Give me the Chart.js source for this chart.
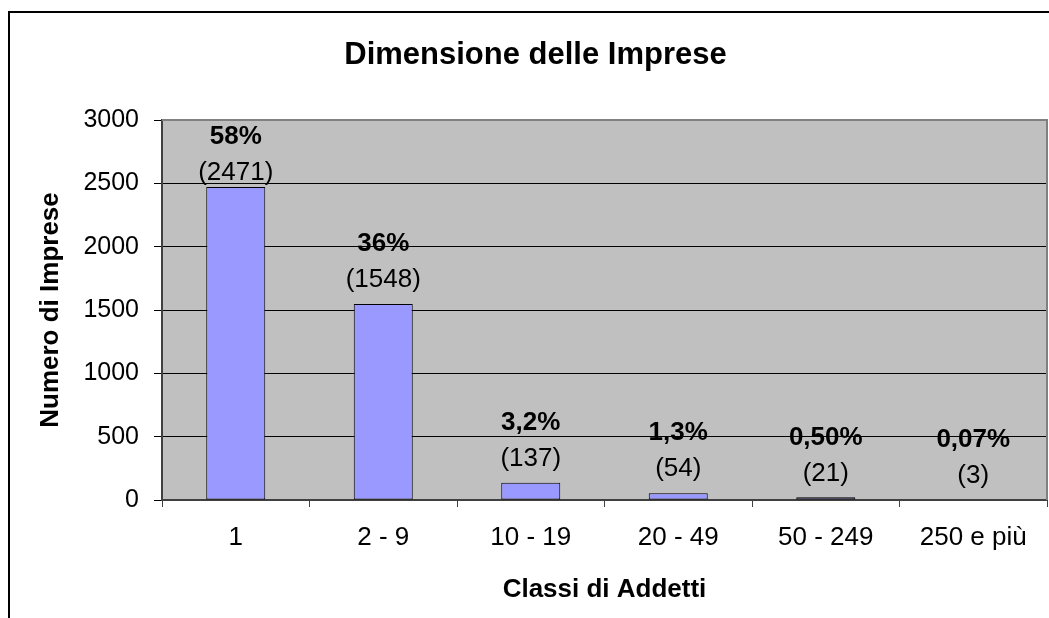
<!DOCTYPE html>
<html><head><meta charset="utf-8">
<script src="https://cdn.jsdelivr.net/npm/chart.js@4/dist/chart.umd.min.js"></script>
<style>html,body{margin:0;padding:0;background:#fff;} #wrap{width:1049px;height:618px;position:relative;}</style>
</head><body><div id="wrap"><canvas id="c" width="1049" height="618"></canvas></div>
<script>
const categories = ['1', '2 - 9', '10 - 19', '20 - 49', '50 - 249', '250 e più'];
const counts = [2471, 1548, 137, 54, 21, 3];
const percentLabels = ['58%', '36%', '3,2%', '1,3%', '0,50%', '0,07%'];
const yTicks = [0, 500, 1000, 1500, 2000, 2500, 3000];
const FONT = "'Liberation Sans', Arial, sans-serif";

Chart.defaults.font.family = FONT;
Chart.defaults.color = '#000';

const framePlugin = {
  id: 'framePlugin',
  beforeDraw(chart) {
    const {ctx, chartArea: a} = chart;
    ctx.save();
    ctx.fillStyle = '#fff';
    ctx.fillRect(0, 0, chart.width, chart.height);
    ctx.strokeStyle = '#000';
    ctx.lineWidth = 2;
    ctx.beginPath();
    ctx.moveTo(9, chart.height);
    ctx.lineTo(9, 12);
    ctx.lineTo(chart.width, 12);
    ctx.stroke();
    ctx.fillStyle = '#C0C0C0';
    ctx.fillRect(a.left, a.top, a.right - a.left, a.bottom - a.top);
    ctx.restore();
  },
  beforeDatasetsDraw(chart) {
    const {ctx, chartArea: a} = chart;
    ctx.save();
    ctx.strokeStyle = '#808080';
    ctx.lineWidth = 2;
    ctx.beginPath();
    ctx.moveTo(a.left, a.top);
    ctx.lineTo(a.right, a.top);
    ctx.lineTo(a.right, a.bottom);
    ctx.stroke();
    ctx.restore();
  }
};

const labelPlugin = {
  id: 'labelPlugin',
  afterDatasetsDraw(chart) {
    const {ctx, chartArea: a} = chart;
    const meta = chart.getDatasetMeta(0);
    ctx.save();
    ctx.fillStyle = '#000';
    ctx.textAlign = 'center';
    ctx.textBaseline = 'middle';
    meta.data.forEach((bar, i) => {
      const py = Math.max(bar.y - 60, a.top + 17);
      const vy = py + 36;
      ctx.font = 'bold 26px ' + FONT;
      ctx.fillText(percentLabels[i], bar.x, py);
      ctx.font = '26px ' + FONT;
      ctx.fillText('(' + counts[i] + ')', bar.x, vy);
    });
    ctx.restore();
  }
};

new Chart(document.getElementById('c'), {
  type: 'bar',
  data: {
    labels: categories,
    datasets: [{
      data: counts,
      backgroundColor: '#9999FF',
      borderColor: '#000',
      borderWidth: 1,
      borderSkipped: false,
      barPercentage: 0.4,
      categoryPercentage: 1.0
    }]
  },
  options: {
    responsive: false,
    animation: false,
    devicePixelRatio: 1,
    layout: {padding: {left: 24, right: 2, top: 0, bottom: 0}},
    plugins: {
      legend: {display: false},
      tooltip: {enabled: false},
      title: {
        display: true,
        text: 'Dimensione delle Imprese',
        color: '#000',
        font: {size: 31, weight: 'bold', family: FONT},
        padding: {top: 37, bottom: 45.8}
      }
    },
    scales: {
      x: {
        grid: {display: true, drawOnChartArea: false, drawTicks: true, tickLength: 7, color: '#404040', offset: true},
        border: {display: true, color: '#404040', width: 2},
        ticks: {color: '#000', font: {size: 26}, padding: 15, maxRotation: 0, autoSkip: false},
        title: {display: true, text: 'Classi di Addetti', color: '#000', font: {size: 26, weight: 'bold'}, padding: {top: 0, bottom: 12.4}},
        afterFit(s) { s.height = 118; }
      },
      y: {
        min: 0,
        max: 3000,
        afterBuildTicks(s) { s.ticks = yTicks.map(v => ({value: v})); },
        ticks: {color: '#000', font: {size: 25}, padding: 15, callback: v => String(v)},
        grid: {color: '#000', lineWidth: 1, tickLength: 8},
        border: {display: true, color: '#404040', width: 2},
        title: {display: true, text: 'Numero di Imprese', color: '#000', font: {size: 26, weight: 'bold'}, padding: {top: 11.4, bottom: 0}},
        afterFit(s) { s.width = 138; }
      }
    }
  },
  plugins: [framePlugin, labelPlugin]
});
</script>
</body></html>
